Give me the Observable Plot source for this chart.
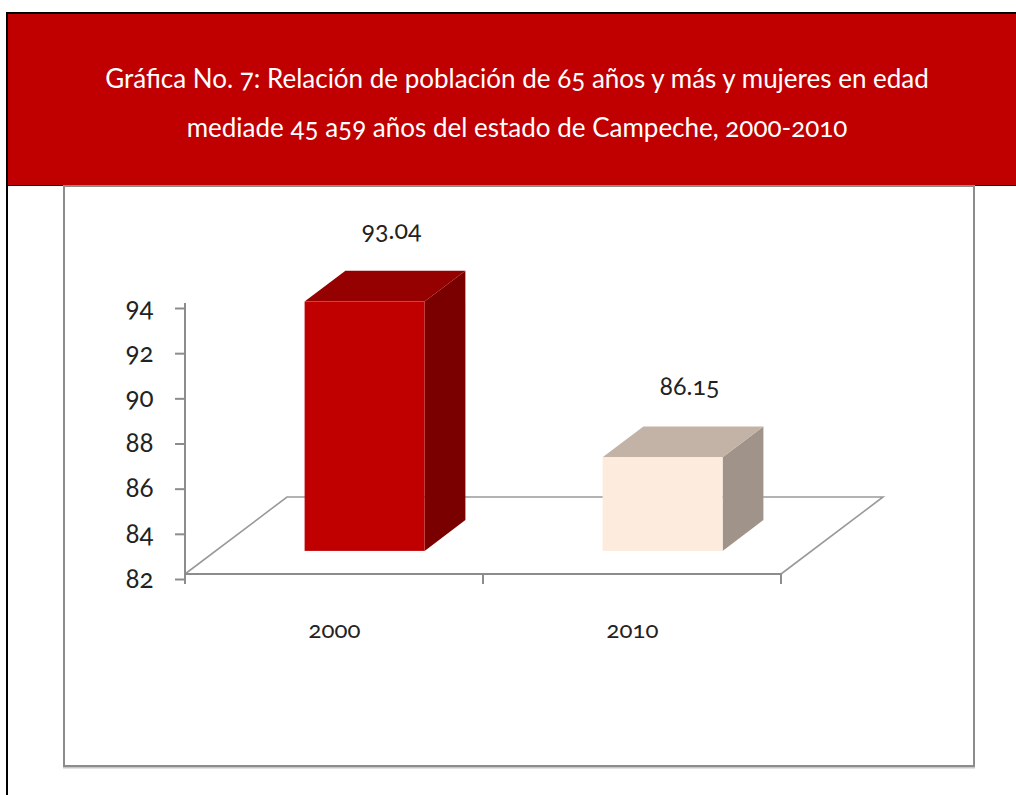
<!DOCTYPE html>
<html>
<head>
<meta charset="utf-8">
<script src="https://cdn.jsdelivr.net/npm/d3@7"></script>
<script src="https://cdn.jsdelivr.net/npm/@observablehq/plot@0.6"></script>
<style>
  html, body { margin: 0; padding: 0; background: #fff; overflow: hidden; }
  #page { position: relative; width: 1016px; height: 795px; overflow: hidden; font-family: Lato, "Noto Sans", sans-serif; }
  #leftline { position: absolute; left: 6px; top: 12px; width: 2px; height: 800px; background: #000; }
  #banner { position: absolute; left: 6px; top: 12px; width: 1018px; height: 171px; background: #C00000;
            border-top: 2px solid #000; border-left: 2px solid #000; border-bottom: 1.5px solid #000; }
  #title { position: absolute; left: 0; right: 0; top: 40px; text-align: center; color: #fff;
           font-size: 26px; line-height: 49px; font-variant-numeric: oldstyle-nums; }
  #frame { position: absolute; left: 63px; top: 185px; width: 908px; height: 578px;
           border: 2px solid #8c8c8c; box-shadow: 0 1.5px 0 #c8c8c8; }
  #chart { position: absolute; left: 65px; top: 187px; }
</style>
</head>
<body>
<div id="page">
  <div id="banner">
    <div id="title">Gráfica No. 7: Relación de población de 65 años y más y mujeres en edad<br>mediade 45 a59 años del estado de Campeche, 2000-2010</div>
  </div>
  <div id="leftline"></div>
  <div id="frame"></div>
  <div id="chart"></div>
</div>
<script>
// ---- data ----
const years = ["2000", "2010"];
const values = [93.04, 86.15];
const valueLabels = ["93.04", "86.15"];
const yTicks = [82, 84, 86, 88, 90, 92, 94];
const yDomain = [82, 94];
const frontColors = ["#C00000", "#FDEBDD"];
const topColors = ["#950000", "#C2B3A6"];
const sideColors = ["#7A0000", "#A0948A"];

const rows = years.map((y, i) => ({year: y, value: values[i], label: valueLabels[i], i}));

// ---- 3D styling constants (pixel offsets) ----
const DX = 102, DY = -77;      // full floor depth vector
const F0 = 0.3, F1 = 0.7;      // bar front / back depth fractions
const BAR_W = 120;
const AXIS = "#8c8c8c";
const FONT = "Lato, 'Noto Sans', sans-serif";

function bandInfo(x) {
  return x.bandwidth ? x.bandwidth() : (x(years[1]) - x(years[0]));
}

function floorMark(index, scales) {
  const {x, y} = scales;
  const bw = bandInfo(x);
  const x0 = x(years[0]), x1 = x(years[years.length - 1]) + bw;
  const yb = y(yDomain[0]), yt = y(yDomain[1]);
  const g = d3.create("svg:g").attr("fill", "none").attr("stroke-width", 1.6);
  g.append("path").attr("stroke", "#9a9a9a")
    .attr("d", `M${x0},${yb}L${x0 + DX},${yb + DY}L${x1 + DX},${yb + DY}L${x1},${yb}`);
  g.append("path").attr("stroke", AXIS).attr("stroke-width", 2)
    .attr("d", `M${x0},${yt}L${x0},${yb}L${x1},${yb}`);
  const bounds = years.map(c => x(c)).concat([x1]);
  g.selectAll("line.t").data(bounds).join("line")
    .attr("stroke", AXIS).attr("stroke-width", 2)
    .attr("x1", d => d).attr("x2", d => d).attr("y1", yb).attr("y2", yb + 10);
  return g.node();
}

function barsMark(index, scales) {
  const {x, y} = scales;
  const bw = bandInfo(x);
  const g = d3.create("svg:g");
  const ox = (F1 - F0) * DX, oy = (F1 - F0) * DY;
  rows.forEach((r, i) => {
    const xa = x(r.year) + (bw - BAR_W) / 2 + F0 * DX;
    const xb = xa + BAR_W;
    const yb = y(yDomain[0]) + F0 * DY;
    const yt = y(r.value) + F0 * DY;
    g.append("polygon").attr("fill", sideColors[i])
      .attr("points", `${xb},${yt} ${xb + ox},${yt + oy} ${xb + ox},${yb + oy} ${xb},${yb}`);
    g.append("polygon").attr("fill", topColors[i])
      .attr("points", `${xa},${yt} ${xa + ox},${yt + oy} ${xb + ox},${yt + oy} ${xb},${yt}`);
    g.append("rect").attr("fill", frontColors[i])
      .attr("x", xa).attr("y", yt).attr("width", BAR_W).attr("height", yb - yt);
  });
  return g.node();
}

const plot = Plot.plot({
  width: 908,
  height: 578,
  marginLeft: 120,
  marginRight: 192,
  marginTop: 116,
  marginBottom: 191,
  style: {fontFamily: FONT, background: "transparent", overflow: "visible"},
  x: {type: "band", domain: years, padding: 0, axis: null},
  y: {domain: yDomain, axis: null},
  marks: [
    floorMark,
    Plot.axisY({ticks: yTicks, tickFormat: d => String(d), tickSize: 10, tickPadding: 22,
                fontSize: 26, stroke: AXIS, strokeWidth: 2, fill: "#222", dy: 5, label: null}),
    Plot.axisX({tickSize: 0, tickPadding: 46, fontSize: 24, fill: "#222", label: null}),
    barsMark,
    Plot.text(rows, {x: "year", y: "value", text: "label", dx: 57, dy: -94, fontSize: 25, fill: "#222"})
  ]
});
plot.querySelectorAll("g, text").forEach(el => {
  el.style.fontVariantNumeric = "oldstyle-nums";
});
document.getElementById("chart").appendChild(plot);
</script>
</body>
</html>
